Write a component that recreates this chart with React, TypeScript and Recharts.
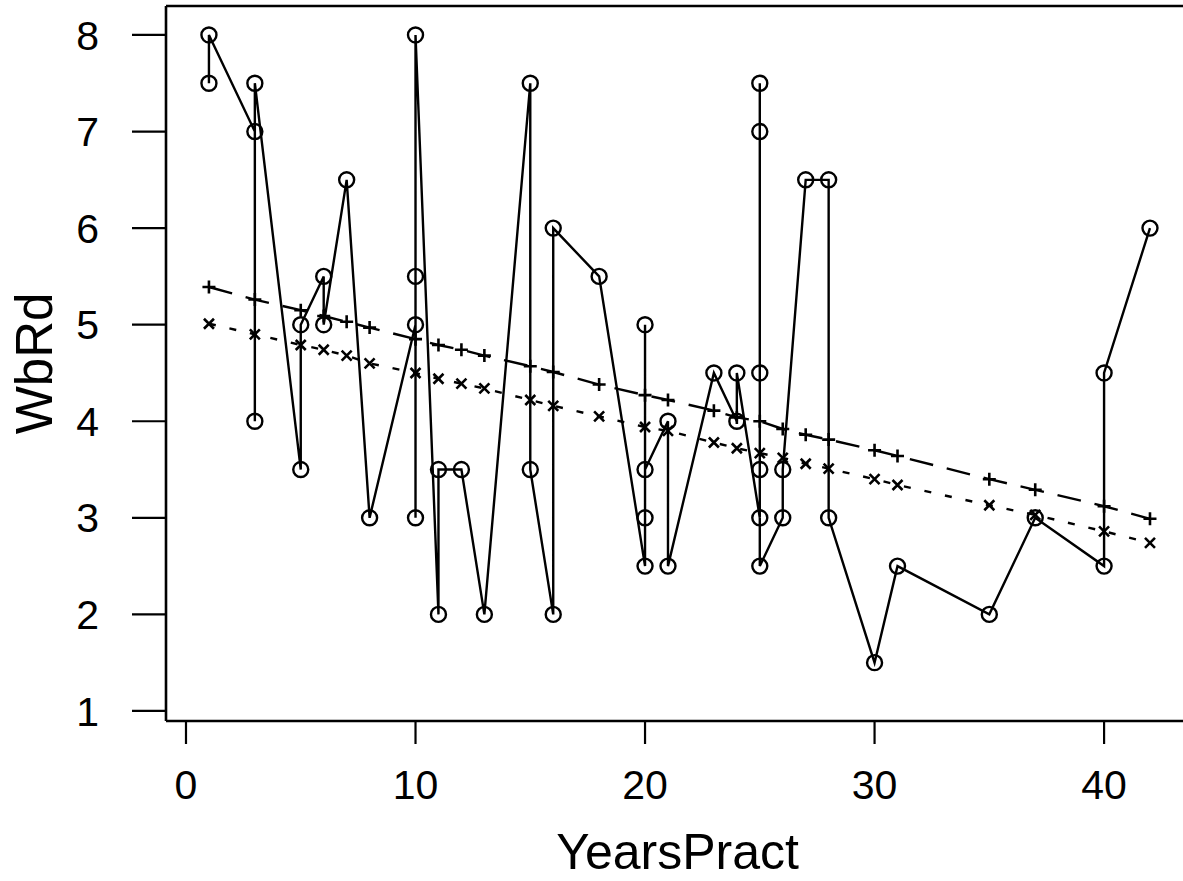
import React from 'react';
import { LineChart, Line, XAxis, YAxis, ReferenceLine } from 'recharts';

// Observed points, in drawing order
const obsYears = [1, 1, 3, 3, 3, 5, 5, 6, 6, 7, 8, 10, 10, 10, 10, 11, 11, 12, 13, 15, 15, 16, 16, 18, 20, 20, 20, 20, 21, 21, 23, 24, 24, 25, 25, 25, 25, 25, 25, 26, 26, 27, 28, 28, 30, 31, 35, 37, 40, 40, 42];
const obsWbRd = [7.5, 8, 7, 4, 7.5, 3.5, 5, 5.5, 5, 6.5, 3, 5, 3, 5.5, 8, 2, 3.5, 3.5, 2, 7.5, 3.5, 2, 6, 5.5, 2.5, 5, 3, 3.5, 4, 2.5, 4.5, 4, 4.5, 3, 7.5, 7, 4.5, 3.5, 2.5, 3, 3.5, 6.5, 6.5, 3, 1.5, 2.5, 2, 3, 2.5, 4.5, 6];

// Fitted series
const fitYears = [1, 3, 5, 6, 7, 8, 10, 11, 12, 13, 15, 16, 18, 20, 21, 23, 24, 25, 26, 27, 28, 30, 31, 35, 37, 40, 42];
const fitPlus = [5.39, 5.26, 5.15, 5.09, 5.03, 4.97, 4.85, 4.79, 4.74, 4.68, 4.57, 4.51, 4.38, 4.27, 4.22, 4.11, 4.04, 4.0, 3.92, 3.86, 3.81, 3.7, 3.64, 3.4, 3.29, 3.12, 2.99];
const fitCross = [5.01, 4.9, 4.79, 4.74, 4.68, 4.6, 4.5, 4.44, 4.39, 4.34, 4.22, 4.16, 4.05, 3.94, 3.9, 3.78, 3.72, 3.67, 3.62, 3.56, 3.51, 3.4, 3.34, 3.13, 3.03, 2.86, 2.74];

const xTicks = [0, 10, 20, 30, 40];
const yTicks = [1, 2, 3, 4, 5, 6, 7, 8];

const X_DOMAIN: [number, number] = [-0.871, 43.7];
const Y_DOMAIN: [number, number] = [0.896, 8.3];

const obsData = obsYears.map((x, i) => ({ x, y: obsWbRd[i] }));
const plusData = fitYears.map((x, i) => ({ x, y: fitPlus[i] }));
const crossData = fitYears.map((x, i) => ({ x, y: fitCross[i] }));

const FONT = '"Liberation Sans", Arial, Helvetica, sans-serif';
const SW = 2.4;

const CircleDot = (p: any) => (
  <circle key={`c${p.index}`} cx={p.cx} cy={p.cy} r={7.5} fill="none" stroke="#000" strokeWidth={SW} />
);
const PlusDot = (p: any) => (
  <path
    key={`p${p.index}`}
    d={`M${p.cx - 6.5},${p.cy}H${p.cx + 6.5}M${p.cx},${p.cy - 6.5}V${p.cy + 6.5}`}
    stroke="#000"
    strokeWidth={2.6}
    fill="none"
  />
);
const CrossDot = (p: any) => (
  <path
    key={`x${p.index}`}
    d={`M${p.cx - 5},${p.cy - 5}L${p.cx + 5},${p.cy + 5}M${p.cx - 5},${p.cy + 5}L${p.cx + 5},${p.cy - 5}`}
    stroke="#000"
    strokeWidth={2.6}
    fill="none"
  />
);

const XTitle = (props: any) => {
  const vb = props.viewBox;
  return (
    <text x={vb.x + vb.width / 2} y={869} textAnchor="middle" fontFamily={FONT} fontSize={50} fill="#000">
      YearsPract
    </text>
  );
};
const YTitle = () => (
  <text
    x={52}
    y={363.5}
    textAnchor="middle"
    transform="rotate(-90, 52, 363.5)"
    fontFamily={FONT}
    fontSize={51}
    fill="#000"
  >
    WbRd
  </text>
);

export default function App() {
  return (
    <div style={{ position: 'absolute', left: 0, top: 0, width: 1183, height: 881, overflow: 'hidden', background: '#fff' }}>
      <LineChart width={1189} height={881} margin={{ top: 6, right: 0, left: 0, bottom: 0 }}>
        <XAxis
          type="number"
          dataKey="x"
          domain={X_DOMAIN}
          allowDataOverflow
          ticks={xTicks}
          interval={0}
          height={160}
          tickSize={23}
          tickMargin={26}
          axisLine={{ stroke: '#000', strokeWidth: 2.6 }}
          tickLine={{ stroke: '#000', strokeWidth: 2.2 }}
          tick={{ fill: '#000', fontSize: 41, fontFamily: FONT }}
          label={<XTitle />}
        />
        <YAxis
          type="number"
          dataKey="y"
          domain={Y_DOMAIN}
          allowDataOverflow
          ticks={yTicks}
          interval={0}
          width={166}
          tickSize={34}
          tickMargin={33}
          axisLine={{ stroke: '#000', strokeWidth: 2.6 }}
          tickLine={{ stroke: '#000', strokeWidth: 2.2 }}
          tick={{ fill: '#000', fontSize: 41, fontFamily: FONT }}
          label={<YTitle />}
        />
        <ReferenceLine y={Y_DOMAIN[1]} stroke="#000" strokeWidth={2.6} />
        <Line
          data={obsData}
          dataKey="y"
          type="linear"
          stroke="#000"
          strokeWidth={SW}
          dot={CircleDot}
          activeDot={false}
          isAnimationActive={false}
        />
        <Line
          data={plusData}
          dataKey="y"
          type="linear"
          stroke="#000"
          strokeWidth={SW}
          strokeDasharray="24 14"
          dot={PlusDot}
          activeDot={false}
          isAnimationActive={false}
        />
        <Line
          data={crossData}
          dataKey="y"
          type="linear"
          stroke="#000"
          strokeWidth={SW}
          strokeDasharray="7 14"
          dot={CrossDot}
          activeDot={false}
          isAnimationActive={false}
        />
      </LineChart>
    </div>
  );
}
